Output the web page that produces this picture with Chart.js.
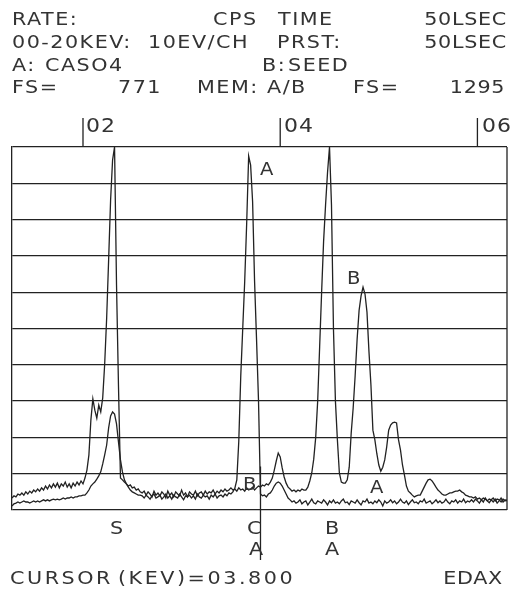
<!DOCTYPE html>
<html>
<head>
<meta charset="utf-8">
<script src="https://cdn.jsdelivr.net/npm/chart.js@4.4.1/dist/chart.umd.min.js"></script>
<style>
  html, body { margin: 0; padding: 0; background: #fff; }
  #wrap { position: relative; width: 510px; height: 589px; overflow: hidden; }
  #chart { position: absolute; left: 0; top: 0; }
  .t {
    position: absolute; white-space: pre; color: #333;
    font-family: "DejaVu Sans", sans-serif; font-size: 18px; line-height: 18px;
    letter-spacing: 1.3px;
    transform: scaleX(1.15); transform-origin: 0 0;
  }
  .r { transform-origin: 100% 0; letter-spacing: 0.6px; }
  .tick { font-size: 20px; line-height: 20px; letter-spacing: 1px; transform: scaleX(1.1); }
  .mark { font-size: 17px; line-height: 17px; }
  .foot { letter-spacing: 2.2px; }
</style>
</head>
<body>
<div id="wrap">
  <canvas id="chart" width="510" height="589"></canvas>

  <!-- header -->
  <div class="t" style="left:12px;top:10px">RATE:</div>
  <div class="t" style="left:213px;top:10px">CPS</div>
  <div class="t" style="left:278px;top:10px">TIME</div>
  <div class="t r" style="right:3px;top:10px">50LSEC</div>
  <div class="t" style="left:12px;top:33px">00-20KEV:</div>
  <div class="t" style="left:148px;top:33px">10EV/CH</div>
  <div class="t" style="left:277px;top:33px">PRST:</div>
  <div class="t r" style="right:3px;top:33px">50LSEC</div>
  <div class="t" style="left:12px;top:56px">A:</div>
  <div class="t" style="left:45px;top:56px">CASO4</div>
  <div class="t" style="left:262px;top:56px">B:</div>
  <div class="t" style="left:288px;top:56px">SEED</div>
  <div class="t" style="left:12px;top:78px">FS=</div>
  <div class="t" style="left:118px;top:78px">771</div>
  <div class="t" style="left:197px;top:78px">MEM:</div>
  <div class="t" style="left:267px;top:78px">A/B</div>
  <div class="t" style="left:353px;top:78px">FS=</div>
  <div class="t r" style="right:5px;top:78px">1295</div>

  <!-- energy marks above the frame -->
  <div class="t tick" style="left:86px;top:115px">02</div>
  <div class="t tick" style="left:284px;top:115px">04</div>
  <div class="t tick" style="left:482px;top:115px">06</div>

  <!-- trace labels inside the plot -->
  <div class="t mark" style="left:260px;top:161px">A</div>
  <div class="t mark" style="left:347px;top:270px">B</div>
  <div class="t mark" style="left:243px;top:476px">B</div>
  <div class="t mark" style="left:370px;top:479px">A</div>

  <!-- element markers -->
  <div class="t" style="left:110px;top:519px">S</div>
  <div class="t" style="left:247px;top:519px">C</div>
  <div class="t" style="left:249px;top:540px">A</div>
  <div class="t" style="left:325px;top:519px">B</div>
  <div class="t" style="left:325px;top:540px">A</div>

  <!-- footer -->
  <div class="t foot" style="left:10px;top:569px">CURSOR</div>
  <div class="t foot" style="left:118px;top:569px">(KEV)=03.800</div>
  <div class="t r" style="right:7px;top:569px">EDAX</div>
</div>

<script>
// ---------------------------------------------------------------------------
// spectrum data: every second channel (10 eV/ch) from 1.28 keV, % of full scale
// ---------------------------------------------------------------------------
const E_START = 1.28;   // keV at first plotted channel
const E_STEP = 0.02;    // keV between plotted channels
const E_MIN = 1.28;
const E_MAX = 6.30;

// A: CASO4  (FS = 771)
const countsA = [
  1.1, 1.7, 1.9, 2.2, 1.9, 2.2, 2.5, 2.2, 2.2, 1.9,
  2.2, 2.5, 2.2, 2.5, 2.2, 2.5, 2.8, 2.5, 2.8, 2.5,
  2.8, 3.0, 2.8, 3.0, 2.8, 3.0, 3.3, 3.0, 3.3, 3.3,
  3.6, 3.3, 3.6, 3.6, 3.9, 3.9, 4.1, 4.1, 4.7, 5.5,
  6.6, 7.2, 7.7, 8.5, 9.4, 10.5, 12.7, 15.2, 17.9, 22.6,   // S
  25.9, 27.0, 26.4, 23.7, 18.7, 13.8, 10.5, 8.3, 7.2, 6.3,
  5.5, 5.0, 4.7, 4.4, 4.1, 4.1, 3.9, 3.3, 4.1, 3.6,
  3.0, 3.9, 4.4, 3.3, 3.6, 4.1, 3.0, 3.6, 4.4, 3.3,
  3.9, 3.0, 4.1, 3.6, 3.3, 4.4, 3.6, 2.8, 3.9, 3.6,
  4.1, 3.3, 3.9, 3.0, 4.4, 3.6, 3.3, 4.1, 3.6, 3.9,
  3.0, 4.1, 3.6, 4.4, 3.3, 3.9, 4.1, 3.6, 4.4, 3.9,
  4.7, 4.4, 5.0, 6.0, 8.3, 19, 37, 50, 63, 79,             // Ca
  97.5, 95, 85, 63, 47, 30, 4.4, 3.9, 4.1, 3.6,
  4.4, 4.7, 5.5, 6.6, 7.4, 7.7, 7.4, 6.6, 5.5, 4.4,
  3.3, 2.8, 2.2, 2.5, 1.9, 2.2, 2.8, 1.7, 2.2, 2.5,
  1.4, 2.2, 3.0, 2.0, 1.7, 2.5, 2.2, 1.9, 2.8, 2.2,
  1.4, 2.5, 2.0, 2.8, 1.9, 2.2, 1.7, 2.5, 3.0, 2.0,
  2.2, 1.5, 2.5, 2.2, 1.9, 2.8, 2.0, 1.4, 2.5, 2.2,
  3.0, 1.9, 2.2, 1.7, 2.5, 2.0, 2.8, 2.2, 1.1, 2.5,
  1.9, 2.2, 2.8, 2.0, 2.5, 1.7, 2.2, 3.0, 2.2, 1.9,
  2.5, 1.5, 2.2, 2.8, 2.0, 2.2, 1.7, 2.5, 2.2, 3.0,
  1.9, 2.2, 2.5, 1.7, 2.2, 2.8, 2.0, 2.5, 1.9, 2.2,
  3.0, 2.2, 1.7, 2.5, 2.2, 2.8, 1.9, 2.5, 2.2, 3.0,
  2.0, 2.5, 2.2, 2.8, 2.2, 3.0, 2.5, 1.9, 2.8, 2.2,
  3.3, 2.5, 2.0, 2.8, 2.2, 3.0, 1.9, 2.5, 3.3, 2.2,
  2.8, 2.5
];

// B: SEED  (FS = 1295)
const countsB = [
  3.3, 3.9, 3.6, 4.4, 4.1, 4.7, 4.1, 5.0, 4.4, 5.2,
  4.7, 5.5, 5.0, 5.8, 5.2, 6.1, 5.5, 6.6, 5.8, 6.9,
  6.1, 7.2, 6.3, 7.4, 6.1, 7.2, 6.6, 7.7, 6.3, 7.2,
  6.1, 7.4, 6.6, 7.7, 6.9, 8.0, 7.2, 8.8, 11.0, 15.2,
  24.8, 30.6, 27.5, 25.3, 28.9, 27.0, 30.9, 40.2, 52.9, 68.9,
  85.4, 96.4, 100, 62, 34, 8.8, 8.3, 7.7, 7.2, 6.6,        // S
  6.9, 6.1, 6.3, 5.5, 5.8, 5.0, 4.7, 5.2, 4.1, 5.0,
  4.4, 3.6, 5.2, 4.1, 4.7, 3.9, 5.0, 4.4, 3.3, 5.2,
  4.1, 4.7, 3.6, 5.0, 4.4, 3.9, 5.5, 4.1, 4.7, 3.6,
  5.0, 4.4, 4.1, 5.2, 3.9, 4.7, 5.0, 4.1, 5.2, 4.4,
  5.0, 4.7, 5.5, 4.4, 5.2, 4.7, 5.5, 5.0, 5.8, 5.2,
  5.5, 6.1, 5.5, 5.8, 5.2, 6.1, 5.5, 5.8, 5.2, 6.1,
  5.5, 5.8, 6.3, 5.5, 6.1, 6.6, 6.3, 6.9, 6.6, 7.2,
  6.9, 7.7, 8.8, 11.0, 13.5, 15.7, 14.6, 11.6, 9.1, 7.4,
  6.3, 5.8, 5.2, 5.5, 5.0, 5.5, 5.2, 5.8, 5.5, 5.5,
  6.3, 8.0, 10.2, 14, 20, 30, 45, 60, 74, 84,              // Ba L-alpha
  93, 100, 84, 50, 30, 19.3, 10.2, 7.7, 7.4, 7.4,
  8.3, 11.8, 21.2, 28.1, 37, 47, 55, 59, 61.4, 59.5,       // Ba L-beta1
  54.5, 43.7, 34.5, 22, 19.3, 15.5, 12.4, 10.7, 11.8, 13.8,
  17.4, 22, 23.4, 24, 24.2, 24.0, 19.3, 16.5, 12.4, 9.6,   // Ba L-beta2
  6.6, 5.2, 4.7, 4.1, 3.6, 3.9, 4.1, 4.1, 5.2, 6.3,
  7.4, 8.3, 8.5, 8.0, 7.2, 6.3, 5.5, 5.0, 4.4, 4.1,        // Ba L-gamma
  4.1, 4.4, 4.7, 4.7, 5.0, 5.2, 5.2, 5.5, 5.0, 4.7,
  4.1, 3.9, 3.6, 3.6, 3.3, 3.6, 3.0, 3.3, 2.8, 3.3,
  3.0, 2.5, 3.0, 2.8, 3.3, 2.5, 3.0, 2.8, 2.2, 3.0,
  2.5, 2.8
];

const gridStep = 10;         // ten divisions of full scale
const topTicks = [2, 4, 6];  // keV marks above the frame
const cursorKeV = 3.8;
const cursorFromPct = 12;    // cursor line starts this high in the plot

// ---------------------------------------------------------------------------
// chart
// ---------------------------------------------------------------------------
const INK = '#222';

function toPoints(counts) {
    return counts.map((v, i) => ({ x: +(E_START + i * E_STEP).toFixed(2), y: v }));
}

const edaxExtras = {
    id: 'edaxExtras',
    afterDraw(chart) {
        const { ctx, chartArea: a, scales: { x, y } } = chart;
        ctx.save();
        ctx.strokeStyle = INK;
        ctx.lineWidth = 1.3;
        ctx.beginPath();
        // right side of the frame
        ctx.moveTo(a.right, a.top);
        ctx.lineTo(a.right, a.bottom);
        // energy marks
        topTicks.forEach(v => {
            const px = x.getPixelForValue(v);
            ctx.moveTo(px, a.top - 29);
            ctx.lineTo(px, a.top);
        });
        // cursor
        const cx = x.getPixelForValue(cursorKeV);
        ctx.moveTo(cx, y.getPixelForValue(cursorFromPct));
        ctx.lineTo(cx, a.bottom + 50);
        ctx.stroke();
        ctx.restore();
    }
};

const ctx = document.getElementById('chart').getContext('2d');
new Chart(ctx, {
    type: 'line',
    data: {
        datasets: [
            {
                label: 'A: CASO4',
                data: toPoints(countsA),
                borderColor: INK,
                borderWidth: 1.3,
                pointRadius: 0,
                tension: 0
            },
            {
                label: 'B: SEED',
                data: toPoints(countsB),
                borderColor: INK,
                borderWidth: 1.3,
                pointRadius: 0,
                tension: 0
            }
        ]
    },
    options: {
        responsive: false,
        animation: false,
        events: [],
        layout: { padding: { left: 12, top: 147, right: 3, bottom: 79 } },
        plugins: {
            legend: { display: false },
            tooltip: { enabled: false }
        },
        scales: {
            x: {
                type: 'linear',
                min: E_MIN,
                max: E_MAX,
                display: false
            },
            y: {
                min: 0,
                max: 100,
                ticks: { stepSize: gridStep, display: false },
                grid: { color: INK, lineWidth: 1.3, drawTicks: false },
                border: { display: true, color: INK, width: 1.3 },
                afterFit(scale) { scale.width = 0; }
            }
        }
    },
    plugins: [edaxExtras]
});
</script>
</body>
</html>
